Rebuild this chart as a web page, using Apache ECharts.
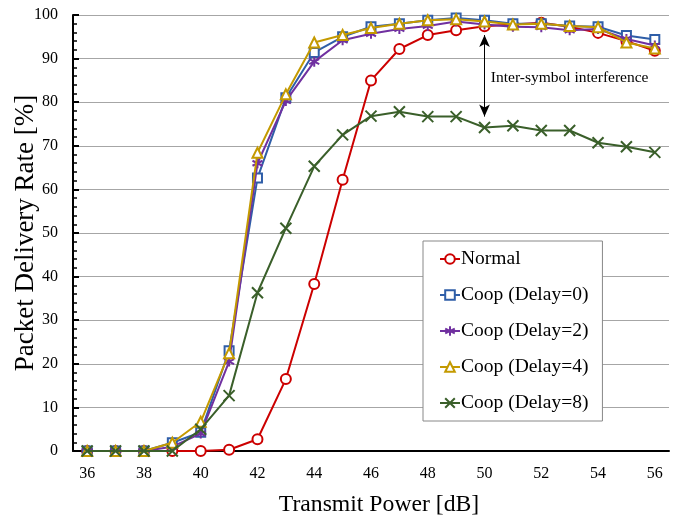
<!DOCTYPE html>
<html>
<head>
<meta charset="utf-8">
<script src="https://cdn.jsdelivr.net/npm/echarts@6/dist/echarts.min.js"></script>
<style>html,body{margin:0;padding:0;background:#fff;}#c{width:680px;height:517px;}</style>
</head>
<body>
<div id="c"></div>
<script>
const categories = ['36','37','38','39','40','41','42','43','44','45','46','47','48','49','50','51','52','53','54','55','56'];
const normal = [0,0,0,0,0,0.3,2.7,16.5,38.3,62.2,85,92.2,95.4,96.5,97.4,97.8,98.2,97.3,95.9,94,91.8];
const coop0  = [0,0,0,1.9,4.3,23,62.6,81,91.4,95,97.3,98,98.8,99.3,98.8,98,98,97.5,97.3,95.3,94.4];
const coop2  = [0,0,0,1,4,20.5,66,80.3,89.3,94.2,95.7,96.8,97.5,98.5,97.8,97.3,97.2,96.5,96.8,94.5,93];
const coop4  = [0,0,0,1.9,6.7,22.4,68.4,81.8,93.7,95.4,97,98,98.8,99,98.5,97.8,98,97.5,97.2,93.7,92.3];
const coop8  = [0,0,0,0,5,12.7,36.3,51.1,65.3,72.5,76.8,77.8,76.7,76.7,74.2,74.6,73.5,73.5,70.7,69.8,68.5];
const yTicks = [0,10,20,30,40,50,60,70,80,90,100];
const seriesNames = ['Normal','Coop (Delay=0)','Coop (Delay=2)','Coop (Delay=4)','Coop (Delay=8)'];
const annotation = {x: '50', from: 95.4, to: 76.7, textX: '53', textY: 85.5, text: 'Inter-symbol interference'};

const FONT = 'Liberation Serif';
const colors = ['#cc0000','#2f5ea8','#7030a0','#c49a00','#3a5f2a'];
const symbols = ['emptyCircle','emptyRect','path://M5,0L5,10M0.7,2.5L9.3,7.5M0.7,7.5L9.3,2.5','emptyTriangle','path://M0,0L10,10M10,0L0,10'];
const sizes = [10,9,10,10,11];
const datasets = [normal, coop0, coop2, coop4, coop8];

const series = datasets.map((d, i) => ({
  name: seriesNames[i],
  type: 'line',
  data: d,
  symbol: symbols[i],
  symbolSize: sizes[i],
  showAllSymbol: true,
  lineStyle: {color: colors[i], width: 2},
  itemStyle: {color: colors[i], borderColor: colors[i], borderWidth: 2},
  emphasis: {disabled: true},
  z: 2 + i
}));

series.push({
  type: 'line',
  data: [],
  silent: true,
  markLine: {
    silent: true,
    symbol: ['arrow','arrow'],
    symbolSize: [8, 12],
    lineStyle: {color: '#000', width: 1, type: 'solid'},
    label: {show: false},
    data: [[{coord: [annotation.x, annotation.from]}, {coord: [annotation.x, annotation.to]}]]
  },
  markPoint: {
    silent: true,
    symbol: 'circle',
    symbolSize: 0,
    label: {show: true, position: 'inside', formatter: annotation.text, color: '#000', fontFamily: FONT, fontSize: 15.5},
    data: [{coord: [annotation.textX, annotation.textY]}]
  }
});

const chart = echarts.init(document.getElementById('c'));
chart.setOption({
  animation: false,
  color: colors,
  grid: {left: 73, right: 11, top: 15, bottom: 66, containLabel: false, outerBoundsMode: 'none'},
  legend: {
    data: seriesNames,
    orient: 'vertical',
    left: 423, top: 241,
    padding: [8, 14, 8, 16],
    itemGap: 16,
    itemWidth: 20,
    itemHeight: 12,
    backgroundColor: '#fff',
    borderColor: '#888',
    borderWidth: 1,
    borderRadius: 0,
    textStyle: {fontFamily: FONT, fontSize: 19.5, color: '#000', padding: [0,0,0,-4]}
  },
  xAxis: {
    type: 'category',
    data: categories,
    boundaryGap: true,
    name: 'Transmit Power [dB]',
    nameLocation: 'middle',
    nameGap: 42,
    nameMoveOverlap: false,
    nameTextStyle: {fontFamily: FONT, fontSize: 23.7, color: '#000', padding: [0, 0, 0, 16]},
    axisLine: {lineStyle: {color: '#000', width: 2}},
    axisTick: {inside: true, length: 5, interval: 0, lineStyle: {color: '#000', width: 1}},
    axisLabel: {interval: 1, fontFamily: FONT, fontSize: 16, color: '#000', margin: 15},
    splitLine: {show: false}
  },
  yAxis: {
    type: 'value',
    min: yTicks[0], max: yTicks[yTicks.length-1], interval: 10,
    name: 'Packet Delivery Rate [%]',
    nameLocation: 'middle',
    nameGap: 34,
    nameMoveOverlap: false,
    nameTextStyle: {fontFamily: FONT, fontSize: 27, color: '#000'},
    axisLine: {show: true, lineStyle: {color: '#000', width: 2}},
    axisTick: {show: true, inside: true, length: 6, lineStyle: {color: '#000', width: 2}},
    minorTick: {show: true, splitNumber: 5, length: 4, lineStyle: {color: '#000', width: 1.5}},
    axisLabel: {fontFamily: FONT, fontSize: 16, color: '#000', margin: 15},
    splitLine: {show: true, lineStyle: {color: '#a6a6a6', width: 1}}
  },
  series: series
});
</script>
</body>
</html>
